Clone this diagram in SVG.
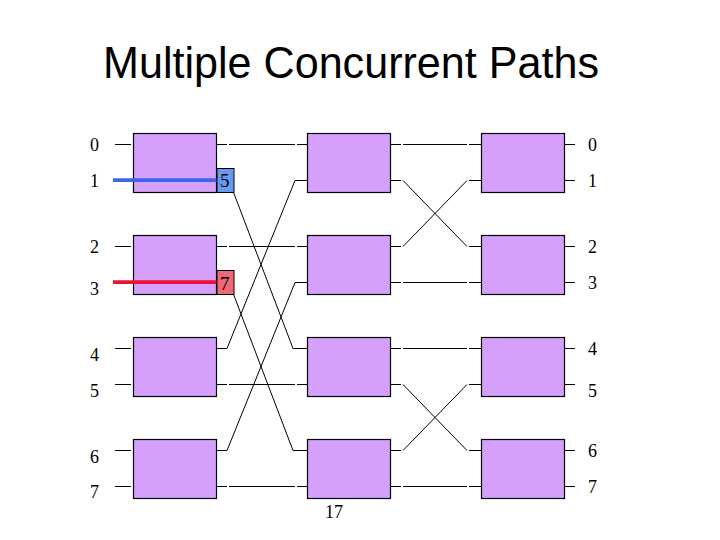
<svg xmlns="http://www.w3.org/2000/svg" width="720" height="540" viewBox="0 0 720 540">
<style>
.box{fill:#d4a0fc;stroke:#000;stroke-width:1.2}
.w{stroke:#000;stroke-width:1;fill:none}
.lbl{font-family:"Liberation Serif","Times New Roman",serif;font-size:18px;fill:#000}
.blbl{font-family:"Liberation Serif","Times New Roman",serif;font-size:19px;fill:#000}
.title{font-family:"Liberation Sans",Arial,sans-serif;font-size:45px;fill:#000}
</style>
<rect width="720" height="540" fill="#fff"/>
<text class="title" x="103" y="78" textLength="496" lengthAdjust="spacingAndGlyphs">Multiple Concurrent Paths</text>

<g id="connectors" class="w">
  <path d="M115 144.5H131M115 246.5H131M115 348.5H131M115 384.5H131M115 450.5H131M115 486.5H131"/>
  <path d="M217 144.5H227M217 246.5H227M217 348.5H227M217 384.5H227M217 450.5H227M217 486.5H227"/>
  <path d="M229 144.5H295M229 246.5H295M229 384.5H295M229 486.5H295"/>
  <path d="M229 180.5L293 348.5M229 282.5L293 450.5M227 348.5L295 180.5M227 450.5L295 282.5"/>
  <path d="M297 144.5H307M295 180.5H307M297 246.5H307M295 282.5H307M293 348.5H307M297 384.5H307M293 450.5H307M297 486.5H307"/>
  <path d="M390 144.5H401M390 180.5H401M390 246.5H401M390 282.5H401M390 348.5H401M390 384.5H401M390 450.5H401M390 486.5H401"/>
  <path d="M403 144.5H467M403 282.5H467M403 348.5H467M403 486.5H467"/>
  <path d="M403 180.5L467 246.5M403 246.5L467 180.5M403 384.5L467 450.5M403 450.5L467 384.5"/>
  <path d="M469 144.5H481M469 180.5H481M469 246.5H481M469 282.5H481M469 348.5H481M469 384.5H481M469 450.5H481M469 486.5H481"/>
  <path d="M564 144.5H575M564 180.5H575M564 246.5H575M564 282.5H575M564 348.5H575M564 384.5H575M564 450.5H575M564 486.5H575"/>
</g>

<g id="col1">
  <g id="s1-0"><rect class="box" x="133.5" y="133.5" width="83" height="59"/></g>
  <g id="s1-1"><rect class="box" x="133.5" y="235.5" width="83" height="59"/></g>
  <g id="s1-2"><rect class="box" x="133.5" y="337.5" width="83" height="59"/></g>
  <g id="s1-3"><rect class="box" x="133.5" y="439.5" width="83" height="59"/></g>
</g>
<g id="col2">
  <g id="s2-0"><rect class="box" x="307.5" y="133.5" width="83" height="59"/></g>
  <g id="s2-1"><rect class="box" x="307.5" y="235.5" width="83" height="59"/></g>
  <g id="s2-2"><rect class="box" x="307.5" y="337.5" width="83" height="59"/></g>
  <g id="s2-3"><rect class="box" x="307.5" y="439.5" width="83" height="59"/></g>
</g>
<g id="col3">
  <g id="s3-0"><rect class="box" x="481.5" y="133.5" width="83" height="59"/></g>
  <g id="s3-1"><rect class="box" x="481.5" y="235.5" width="83" height="59"/></g>
  <g id="s3-2"><rect class="box" x="481.5" y="337.5" width="83" height="59"/></g>
  <g id="s3-3"><rect class="box" x="481.5" y="439.5" width="83" height="59"/></g>
</g>

<g id="path-blue">
  <line x1="113" y1="180.2" x2="217" y2="180.2" stroke="#3e64e8" stroke-width="3.8"/>
  <rect x="217" y="168.5" width="17" height="24" fill="#6a98f0" stroke="#000" stroke-width="1"/>
  <text class="blbl" x="220" y="187">5</text>
</g>
<g id="path-red">
  <line x1="113" y1="282.2" x2="217" y2="282.2" stroke="#ee1038" stroke-width="3.8"/>
  <rect x="217" y="270.5" width="17" height="24" fill="#f06878" stroke="#000" stroke-width="1"/>
  <text class="blbl" x="220" y="289.5">7</text>
</g>

<g id="labels-in" class="lbl">
  <text x="90" y="151">0</text>
  <text x="90" y="186.5">1</text>
  <text x="90" y="252.5">2</text>
  <text x="90" y="294.5">3</text>
  <text x="90" y="360.5">4</text>
  <text x="90" y="396.5">5</text>
  <text x="90" y="463">6</text>
  <text x="90" y="498">7</text>
</g>
<g id="labels-out" class="lbl">
  <text x="588" y="151">0</text>
  <text x="588" y="186.5">1</text>
  <text x="588" y="253">2</text>
  <text x="588" y="288.5">3</text>
  <text x="588" y="355">4</text>
  <text x="588" y="396.5">5</text>
  <text x="588" y="457">6</text>
  <text x="588" y="493">7</text>
</g>
<text class="lbl" x="325" y="518">17</text>
</svg>
